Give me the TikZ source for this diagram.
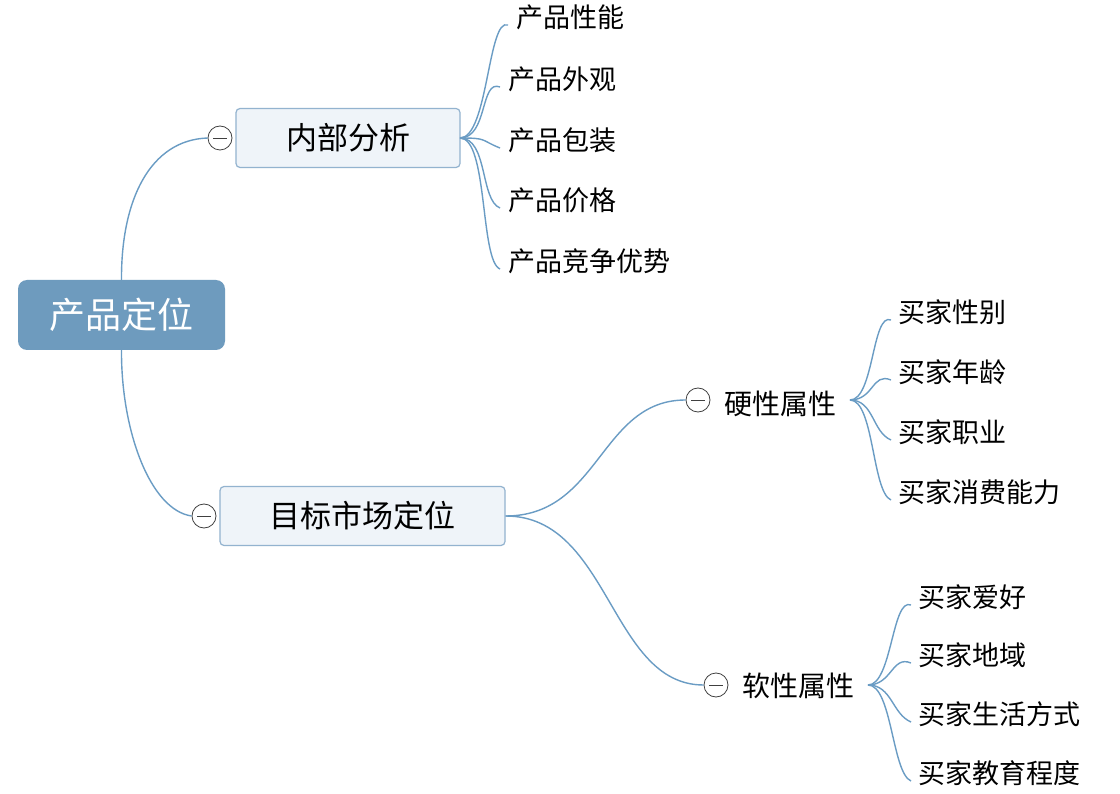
\documentclass[tikz,border=0pt]{standalone}
\usepackage{fontspec}
\setmainfont{Noto Sans CJK SC}
\usetikzlibrary{calc}
\definecolor{ln}{HTML}{6A9CC4}
\definecolor{rootc}{HTML}{6E9BBE}
\definecolor{boxf}{HTML}{EFF4F9}
\definecolor{boxd}{HTML}{93B3CF}
\begin{document}
\begin{tikzpicture}[x=1pt,y=-1pt,
 conn/.style={draw=ln,line width=1.4pt},
 mid/.style={draw=boxd,fill=boxf,rounded corners=4pt,line width=1.2pt,font=\fontsize{31}{34}\selectfont,inner sep=0pt},
 leaf/.style={anchor=west,font=\fontsize{27}{30}\selectfont,inner sep=0pt},
 sub/.style={anchor=west,font=\fontsize{28}{31}\selectfont,inner sep=0pt},
 tog/.style={circle,draw=black!75,fill=white,minimum size=24pt,inner sep=0pt,line width=0.8pt,
   path picture={\draw[black!75,line width=0.8pt] ($(path picture bounding box.west)+(5,0)$)--($(path picture bounding box.east)+(-5,0)$);}}]
\useasboundingbox (0,0) rectangle (1120,794);
\fill[white] (0,0) rectangle (1120,794);
% nodes
\node[fill=rootc,rounded corners=9pt,minimum width=207pt,minimum height=70pt,text=white,font=\fontsize{36}{40}\selectfont,inner sep=0pt] (root) at (121.5,315) {产品定位};
\node[mid,minimum width=224pt,minimum height=59pt] (nb) at (348,138) {内部分析};
\node[mid,minimum width=285pt,minimum height=59pt] (mk) at (362.5,516) {目标市场定位};
\node[tog] (t1) at (220,138) {};
\node[tog] (t2) at (204,516) {};
\node[tog] (t3) at (698,400) {};
\node[tog] (t4) at (716,685) {};
\node[sub] (hd) at (724,404) {硬性属性};
\node[sub] (sf) at (742,686) {软性属性};
\foreach \n/\t/\y/\x in {a1/产品性能/17/516,a2/产品外观/79/508,a3/产品包装/140/508,a4/产品价格/200/508,a5/产品竞争优势/261/508}
  {\node[leaf] (\n) at (\x,\y) {\t};}
\foreach \n/\t/\y in {b1/买家性别/312,b2/买家年龄/372,b3/买家职业/432,b4/买家消费能力/492}
  {\node[leaf] (\n) at (898,\y) {\t};}
\foreach \n/\t/\y in {c1/买家爱好/597,c2/买家地域/655,c3/买家生活方式/714,c4/买家教育程度/773}
  {\node[leaf] (\n) at (918,\y) {\t};}
% connectors
\draw[conn] (root.north) .. controls (121,200) and (150,140) .. (t1.west);
\draw[conn] (root.south) .. controls (121,430) and (150,510) .. (t2.west);
\draw[conn] (mk.east) .. controls (600,516) and (600,400) .. (t3.west);
\draw[conn] (mk.east) .. controls (610,516) and (610,685) .. (t4.west);
\coordinate (pn) at (460,138);
\coordinate (ph) at (850,400);
\coordinate (ps) at (868,685);
\foreach \n in {a1,a2,a3,a4,a5}
  {\draw[conn] (pn) .. controls ($(pn)+(28,0)$) and ($(\n.west)+(-28,0)$) .. ($(\n.west)+(-8,8)$);}
\foreach \n in {b1,b2,b3,b4}
  {\draw[conn] (ph) .. controls ($(ph)+(24,0)$) and ($(\n.west)+(-26,0)$) .. ($(\n.west)+(-7,8)$);}
\foreach \n in {c1,c2,c3,c4}
  {\draw[conn] (ps) .. controls ($(ps)+(24,0)$) and ($(\n.west)+(-26,0)$) .. ($(\n.west)+(-7,8)$);}
\end{tikzpicture}
\end{document}
